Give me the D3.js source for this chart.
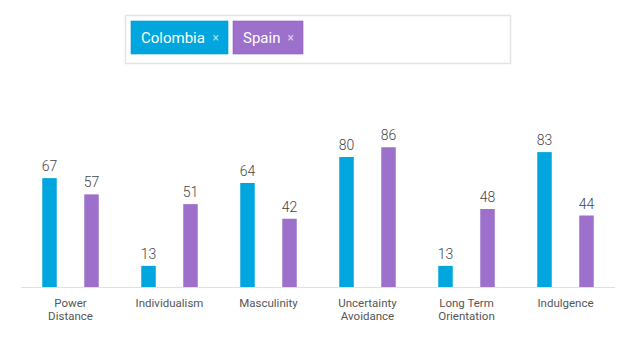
<!DOCTYPE html>
<html>
<head>
<meta charset="utf-8">
<script src="https://cdn.jsdelivr.net/npm/d3@7"></script>
<style>
  body { margin: 0; background: #fff; }
  svg { display: block; }
</style>
</head>
<body>
<script>
// Data
const categories = ["Power Distance", "Individualism", "Masculinity", "Uncertainty Avoidance", "Long Term Orientation", "Indulgence"];
const catLines = [["Power", "Distance"], ["Individualism"], ["Masculinity"], ["Uncertainty", "Avoidance"], ["Long Term", "Orientation"], ["Indulgence"]];
const countries = ["Colombia", "Spain"];
const colombia = [67, 13, 64, 80, 13, 83];
const spain = [57, 51, 42, 86, 48, 44];
const colors = ["#00a6dd", "#9d70cc"];

const W = 640, H = 337;
const svg = d3.select("body").append("svg")
    .attr("width", W)
    .attr("height", H);

const font = "Roboto, 'Open Sans', sans-serif";

// Legend box with tags
const legend = svg.append("g");
legend.append("rect")
    .attr("x", 125.5).attr("y", 15.5)
    .attr("width", 385).attr("height", 48)
    .attr("fill", "#fff")
    .attr("stroke", "#e2e2e2")
    .attr("stroke-width", 1.5);

const tags = [
  { x: 131, w: 97 },
  { x: 233, w: 70 }
];
countries.forEach(function(c, i) {
  const t = legend.append("g").attr("transform", "translate(" + tags[i].x + ",21)");
  t.append("rect")
      .attr("width", tags[i].w).attr("height", 33)
      .attr("fill", colors[i])
      .attr("stroke", i == 1 ? "#8a5cbf" : "#0099cc")
      .attr("stroke-width", 0.6);
  t.append("text")
      .attr("x", 10).attr("y", 22)
      .attr("font-family", font)
      .attr("font-size", "15px")
      .attr("fill", "#fff")
      .text(c);
  t.append("text")
      .attr("x", tags[i].w - 9).attr("y", 21)
      .attr("text-anchor", "end")
      .attr("font-family", font)
      .attr("font-size", "12px")
      .attr("fill", "rgba(255,255,255,0.7)")
      .text("×");
});

// Scales
const baseline = 287;
const x = d3.scaleBand()
    .domain(categories)
    .range([21, 615]);

const xInner = d3.scaleOrdinal()
    .domain(countries)
    .range([-21, 21]);

const y = d3.scaleLinear()
    .domain([0, 100])
    .range([baseline, baseline - 162.5]);

const barW = 14.5;

// Axis line
svg.append("line")
    .attr("x1", x.range()[0]).attr("x2", x.range()[1])
    .attr("y1", baseline + 0.5).attr("y2", baseline + 0.5)
    .attr("stroke", "#e0e0e0")
    .attr("stroke-width", 1);

const series = [colombia, spain];
const g = svg.append("g");

series.forEach(function(vals, si) {
  const c = countries[si];
  const data = categories.map(function(cat, i) { return { cat: cat, v: vals[i] }; });

  g.selectAll(".bar-" + si)
    .data(data)
    .enter().append("rect")
      .attr("x", function(d) { return x(d.cat) + x.bandwidth() / 2 + xInner(c) - barW / 2; })
      .attr("y", function(d) { return y(d.v); })
      .attr("width", barW)
      .attr("height", function(d) { return baseline - y(d.v); })
      .attr("fill", colors[si]);

  g.selectAll(".val-" + si)
    .data(data)
    .enter().append("text")
      .attr("x", function(d) { return x(d.cat) + x.bandwidth() / 2 + xInner(c); })
      .attr("y", function(d) { return y(d.v) - 7; })
      .attr("text-anchor", "middle")
      .attr("font-family", font)
      .attr("font-weight", 300)
      .attr("font-size", "14px")
      .attr("fill", "#444")
      .text(function(d) { return d.v; });
});

// Category labels
categories.forEach(function(cat, i) {
  const t = svg.append("text")
      .attr("x", x(cat) + x.bandwidth() / 2)
      .attr("y", 307)
      .attr("text-anchor", "middle")
      .attr("font-family", font)
      .attr("font-size", "11.5px")
      .attr("fill", "#555");
  catLines[i].forEach(function(line, j) {
    t.append("tspan")
        .attr("x", x(cat) + x.bandwidth() / 2)
        .attr("dy", j == 0 ? 0 : 13)
        .text(line);
  });
});
</script>
</body>
</html>
